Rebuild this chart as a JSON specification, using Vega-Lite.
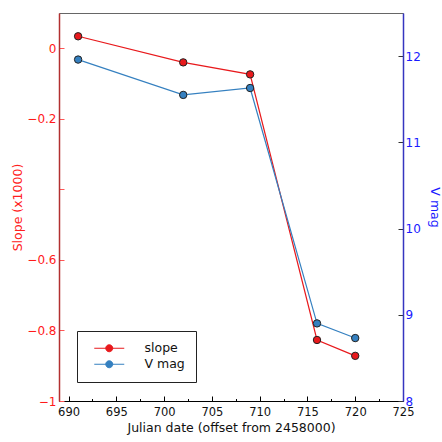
{
  "$schema": "https://vega.github.io/schema/vega-lite/v6.json",
  "width": 344,
  "height": 388,
  "autosize": "none",
  "padding": {"left": 59, "top": 13, "right": 39, "bottom": 41},
  "background": "white",
  "config": {
    "font": "DejaVu Sans",
    "view": {"stroke": "#666666", "strokeWidth": 1},
    "axis": {"grid": false, "titleFontWeight": "normal", "labelOverlap": false, "labelFlush": false}
  },
  "data": {
    "values": [
      {"jd": 691, "slope": 0.034, "vmag": 11.96},
      {"jd": 702, "slope": -0.04, "vmag": 11.55},
      {"jd": 709, "slope": -0.074, "vmag": 11.63},
      {"jd": 716, "slope": -0.827, "vmag": 8.90},
      {"jd": 720, "slope": -0.872, "vmag": 8.73}
    ]
  },
  "layer": [
    {
      "encoding": {
        "x": {
          "field": "jd", "type": "quantitative",
          "scale": {"domain": [689, 725], "nice": false, "zero": false},
          "axis": {
            "orient": "bottom",
            "title": "Julian date (offset from 2458000)",
            "values": [690, 695, 700, 705, 710, 715, 720, 725],
            "tickSize": -5, "labelPadding": 10,
            "domainColor": "#000000", "tickColor": "#000000", "labelColor": "#111111",
            "labelFontSize": 11.5, "titleFontSize": 12.5, "titleColor": "#111111", "titlePadding": 4
          }
        },
        "y": {
          "field": "slope", "type": "quantitative",
          "scale": {"domain": [-1, 0.1], "nice": false, "zero": false},
          "axis": {
            "orient": "left",
            "title": "Slope (x1000)",
            "values": [0, -0.2, -0.4, -0.6, -0.8, -1],
            "format": ".1~f",
            "labelExpr": "datum.value == -0.4 ? '' : datum.label",
            "tickSize": -5, "labelPadding": 8,
            "domainColor": "#b23030", "domainWidth": 1.5, "tickColor": "#ff5555",
            "labelColor": "#ff1a1a", "labelFontSize": 12,
            "titleColor": "#ff2020", "titleFontSize": 12.5, "titlePadding": 2
          }
        },
        "color": {
          "datum": "slope", "type": "nominal",
          "scale": {"domain": ["slope", "V mag"], "range": ["#e8191c", "#3580c0"]},
          "legend": {
            "orient": "none", "legendX": 18, "legendY": 318, "direction": "vertical",
            "title": null, "padding": 11, "strokeColor": "#222222", "fillColor": "white",
            "symbolType": "M0,0L6,0M2.3,0A0.7,0.7 0 1,1 3.7,0A0.7,0.7 0 1,1 2.3,0",
            "symbolSize": 100, "symbolStrokeWidth": 1, "labelOffset": 44,
            "labelFontSize": 12.5, "labelColor": "#111111", "rowPadding": 3,
            "encode": {"symbols": {"update": {"stroke": {"scale": "color", "field": "value"}, "fill": {"scale": "color", "field": "value"}}}}
          }
        }
      },
      "layer": [
        {"mark": {"type": "line", "strokeWidth": 1.2}},
        {"mark": {"type": "point", "filled": true, "size": 55, "stroke": "#222222", "strokeWidth": 1, "opacity": 1}}
      ]
    },
    {
      "encoding": {
        "x": {
          "field": "jd", "type": "quantitative",
          "scale": {"domain": [689, 725], "nice": false, "zero": false},
          "axis": {
            "orient": "bottom", "title": null, "labels": false, "domain": false,
            "values": [692.5, 697.5, 702.5, 707.5, 712.5, 717.5, 722.5],
            "tickSize": -2.5, "tickColor": "#000000"
          }
        },
        "y": {
          "field": "vmag", "type": "quantitative",
          "scale": {"domain": [8, 12.5], "nice": false, "zero": false},
          "axis": {
            "orient": "right",
            "title": "V mag",
            "values": [8, 9, 10, 11, 12],
            "tickSize": -5, "labelPadding": 7,
            "domainColor": "#3535c0", "domainWidth": 1.5, "tickColor": "#333333",
            "labelColor": "#1a1aff", "labelFontSize": 12,
            "titleColor": "#1a1aff", "titleFontSize": 12.5, "titleAngle": 90, "titlePadding": 7
          }
        },
        "color": {"datum": "V mag", "type": "nominal"}
      },
      "layer": [
        {"mark": {"type": "line", "strokeWidth": 1.2}},
        {"mark": {"type": "point", "filled": true, "size": 55, "stroke": "#222222", "strokeWidth": 1, "opacity": 1}}
      ]
    }
  ],
  "resolve": {"scale": {"y": "independent"}, "axis": {"x": "independent", "y": "independent"}}
}
